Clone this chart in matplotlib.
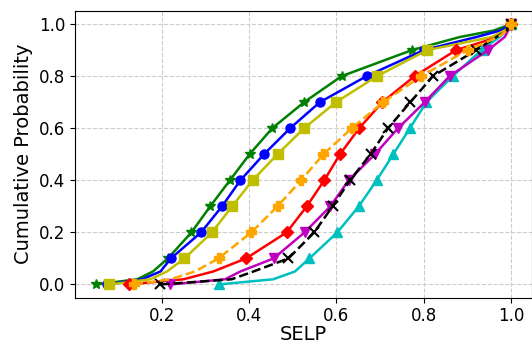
import matplotlib
matplotlib.use("Agg")
import matplotlib.pyplot as plt
import numpy as np

# cumulative probability levels at which the quantiles were read
levels = [0.0, 0.02, 0.05, 0.1, 0.2, 0.3, 0.4, 0.5, 0.6, 0.7, 0.8, 0.9, 0.95, 0.975, 1.0]

green  = [0.049, 0.144, 0.180, 0.214, 0.268, 0.311, 0.356, 0.401, 0.453, 0.526, 0.612, 0.773, 0.882, 0.960, 1.0]
blue   = [0.075, 0.155, 0.197, 0.221, 0.290, 0.338, 0.380, 0.434, 0.494, 0.562, 0.669, 0.800, 0.920, 0.975, 1.0]
olive  = [0.080, 0.174, 0.212, 0.252, 0.315, 0.361, 0.408, 0.465, 0.526, 0.599, 0.693, 0.808, 0.955, 0.985, 1.0]
red    = [0.124, 0.250, 0.318, 0.393, 0.486, 0.532, 0.572, 0.608, 0.652, 0.705, 0.779, 0.874, 0.970, 0.990, 1.0]
cyan   = [0.330, 0.455, 0.505, 0.538, 0.602, 0.651, 0.692, 0.730, 0.768, 0.806, 0.866, 0.932, 0.973, 0.990, 1.0]
magenta= [0.220, 0.345, 0.380, 0.456, 0.527, 0.586, 0.628, 0.688, 0.741, 0.802, 0.859, 0.947, 0.985, 0.993, 1.0]
black  = [0.197, 0.360, 0.410, 0.490, 0.549, 0.591, 0.631, 0.678, 0.718, 0.769, 0.821, 0.920, 0.966, 0.990, 1.0]
orange = [0.136, 0.220, 0.276, 0.330, 0.405, 0.465, 0.519, 0.570, 0.635, 0.707, 0.794, 0.900, 0.970, 0.990, 1.0]

series = [
    (green, 'g', '-', '*', 7.5),
    (blue, 'b', '-', 'o', 6.5),
    (olive, 'y', '-', 's', 6.5),
    (red, 'r', '-', 'D', 6),
    (cyan, 'c', '-', '^', 6.5),
    (magenta, 'm', '-', 'v', 6.5),
    (black, 'k', '--', 'x', 7),
    (orange, 'orange', '--', 'P', 7),
]

lv = np.array(levels)
mark_idx = [i for i, p in enumerate(levels) if abs(p * 10 - round(p * 10)) < 1e-9]

fig = plt.figure(figsize=(5.32, 3.45), dpi=100)
ax = fig.add_axes([75 / 532, (345 - 297.5) / 345, 457 / 532, 286.5 / 345])

for xs, c, ls, mk, ms in series:
    ax.plot(xs, lv, color=c, linestyle=ls, linewidth=1.8, marker=mk,
            markersize=ms, markevery=mark_idx,
            markeredgewidth=1.5 if mk == 'x' else 1)

ax.set_xlabel('SELP', fontsize=14, labelpad=0)
ax.set_ylabel('Cumulative Probability', fontsize=14)
ax.tick_params(labelsize=12)
ax.set_xticks([0.2, 0.4, 0.6, 0.8, 1.0])
ax.set_yticks([0.0, 0.2, 0.4, 0.6, 0.8, 1.0])
ax.grid(True, linestyle='--', color='#cccccc', linewidth=0.8)
ax.set_axisbelow(True)

fig.savefig('out.png', dpi=100)
